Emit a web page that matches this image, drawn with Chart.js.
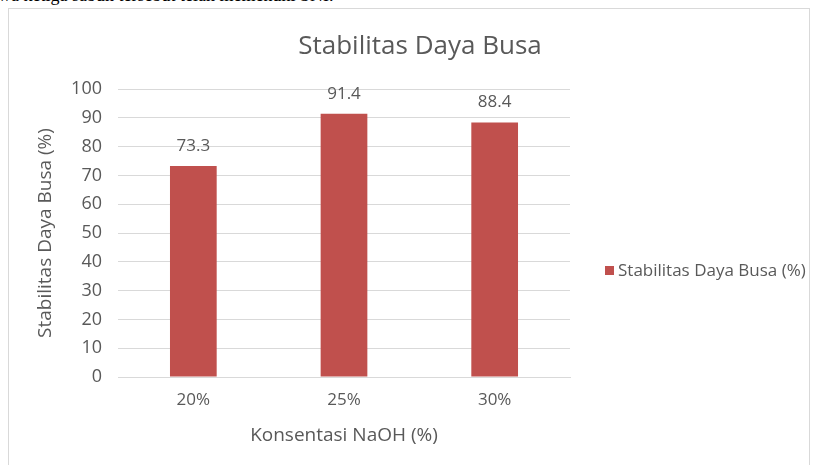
<!DOCTYPE html>
<html>
<head>
<meta charset="utf-8">
<script src="https://cdn.jsdelivr.net/npm/chart.js@4.4.1/dist/chart.umd.min.js"></script>
<style>
  html, body { margin: 0; padding: 0; background: #fff; overflow: hidden; }
  body { width: 817px; height: 465px; position: relative; }
  .texte-haut {
    position: absolute; left: -2px; top: -15px;
    font-family: "Liberation Serif", serif; font-size: 18px; color: #000;
    white-space: nowrap;
  }
  .cadre {
    position: absolute; left: 8px; top: 8px; width: 802px; height: 470px;
    border: 1px solid #d9d9d9; box-sizing: border-box;
  }
  #chartBusa { position: absolute; left: 9px; top: 9px; }
</style>
</head>
<body>
<div class="texte-haut">wa ketiga sabun tersebut telah memenuhi SNI.</div>
<div class="cadre"></div>
<canvas id="chartBusa" width="800" height="456"></canvas>
<script>
// Données du graphique
const categories = ['20%', '25%', '30%'];
const stabilitas = [73.3, 91.4, 88.4];
const yTicks = [0, 10, 20, 30, 40, 50, 60, 70, 80, 90, 100];

const titre = 'Stabilitas Daya Busa';
const serieLabel = 'Stabilitas Daya Busa (%)';
const rouge = '#c0504d';
const gris = '#595959';
const police = '"Open Sans", sans-serif';

// Titre centré sur toute la largeur du cadre
const titrePlugin = {
  id: 'titre',
  afterDraw(chart) {
    const ctx = chart.ctx;
    ctx.save();
    ctx.font = '26px ' + police;
    ctx.fillStyle = gris;
    ctx.textAlign = 'center';
    ctx.textBaseline = 'alphabetic';
    ctx.fillText(titre, chart.width / 2 + 11, 45);
    ctx.restore();
  }
};

// Étiquettes de valeurs au-dessus des barres
const valeursPlugin = {
  id: 'valeurs',
  afterDatasetsDraw(chart) {
    const ctx = chart.ctx;
    const meta = chart.getDatasetMeta(0);
    ctx.save();
    ctx.font = '17px ' + police;
    ctx.fillStyle = gris;
    ctx.textAlign = 'center';
    ctx.textBaseline = 'middle';
    meta.data.forEach((bar, i) => {
      ctx.fillText(String(chart.data.datasets[0].data[i]), bar.x, bar.y - 20);
    });
    ctx.restore();
  }
};

// Légende à droite, dessinée à la main
const legendePlugin = {
  id: 'legende',
  afterDraw(chart) {
    const ctx = chart.ctx;
    const x = chart.chartArea.right + 35;
    const y = 261;
    ctx.save();
    ctx.fillStyle = rouge;
    ctx.fillRect(x, y - 4, 9, 9);
    ctx.font = '17px ' + police;
    ctx.fillStyle = gris;
    ctx.textAlign = 'left';
    ctx.textBaseline = 'middle';
    ctx.fillText(chart.data.datasets[0].label, x + 13, y + 1);
    ctx.restore();
  }
};

const ctx = document.getElementById('chartBusa').getContext('2d');

const chartBusa = new Chart(ctx, {
  type: 'bar',
  data: {
    labels: categories,
    datasets: [{
      label: serieLabel,
      data: stabilitas,
      backgroundColor: rouge,
      borderWidth: 0,
      barPercentage: 0.31,
      categoryPercentage: 1
    }]
  },
  options: {
    responsive: false,
    animation: false,
    layout: { padding: { left: 21, right: 239, top: 80, bottom: 0 } },
    plugins: {
      legend: { display: false },
      tooltip: { enabled: false },
      title: { display: false }
    },
    scales: {
      x: {
        grid: { display: false, drawTicks: false },
        border: { color: '#d9d9d9', width: 1 },
        ticks: { color: gris, font: { family: police, size: 17 }, padding: 13 },
        title: {
          display: true,
          text: 'Konsentasi NaOH (%)',
          color: gris,
          font: { family: police, size: 19 },
          padding: { top: 4, bottom: 18 }
        },
        afterFit(scale) { scale.height = 88; }
      },
      y: {
        min: 0,
        max: 100,
        afterBuildTicks(scale) { scale.ticks = yTicks.map(v => ({ value: v })); },
        grid: { color: '#d9d9d9', drawTicks: false },
        border: { display: false },
        ticks: { color: gris, font: { family: police, size: 18 }, padding: 16 },
        title: {
          display: true,
          text: serieLabel,
          color: gris,
          font: { family: police, size: 19 },
          padding: { top: 4, bottom: 4 }
        },
        afterFit(scale) { scale.width = 88; }
      }
    }
  },
  plugins: [titrePlugin, valeursPlugin, legendePlugin]
});
</script>
</body>
</html>
